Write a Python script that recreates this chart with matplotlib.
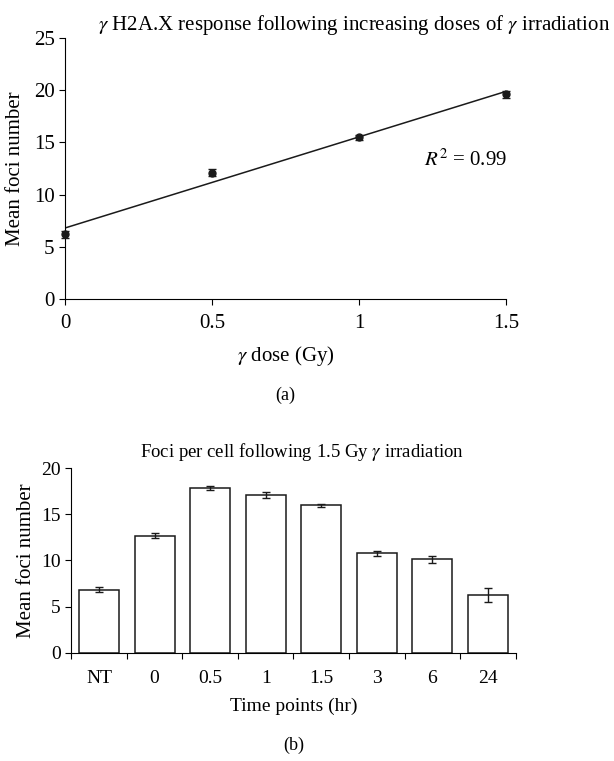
import numpy as np
from matplotlib import pyplot as plt

plt.rcParams['font.family'] = ['Liberation Serif', 'DejaVu Serif']
plt.rcParams['mathtext.fontset'] = 'stix'
plt.rcParams['font.size'] = 12

# panel (a): dose response
dose = [0, 0.5, 1, 1.5]
dose_foci = [6.2, 12.1, 15.5, 19.6]
dose_err = [0.35, 0.35, 0.25, 0.35]
r2_text = '$R^2$ = 0.99'

# panel (b): time course after 1.5 Gy
time_labels = ['NT', '0', '0.5', '1', '1.5', '3', '6', '24']
time_foci = [6.85, 12.7, 17.87, 17.1, 15.95, 10.77, 10.13, 6.3]
time_err = [0.3, 0.3, 0.2, 0.3, 0.2, 0.3, 0.4, 0.77]

fig = plt.figure(figsize=(6.14, 7.61), dpi=100)

ax1 = fig.add_axes([0.106, 0.607, 0.718, 0.343])
ax1.errorbar(dose, dose_foci, yerr=dose_err, fmt='o', color='#1a1a1a',
             markersize=5, capsize=3, elinewidth=1, capthick=1, zorder=3, clip_on=False)
slope, intercept = np.polyfit(dose, dose_foci, 1)
xs = np.array([0, 1.5])
ax1.plot(xs, slope * xs + intercept, color='#1a1a1a', lw=1.1)
ax1.text(1.22, 13.3, r2_text, fontsize=15, ha='left', va='center')
ax1.set_xlim(0, 1.5)
ax1.set_ylim(0, 25)
ax1.set_xticks([0, 0.5, 1, 1.5])
ax1.set_xticklabels(['0', '0.5', '1', '1.5'])
ax1.set_yticks(range(0, 26, 5))
ax1.tick_params(axis='both', labelsize=15)
ax1.tick_params(axis='x', pad=7)
ax1.set_ylabel('Mean foci number', fontsize=15, labelpad=6)
ax1.set_xlabel(r'$\gamma$ dose (Gy)', fontsize=15, labelpad=8)
ax1.set_title(r'$\gamma$ H2A.X response following increasing doses of $\gamma$ irradiation',
              fontsize=15, x=0.655, pad=6)
ax1.text(0.5, -0.37, '(a)', transform=ax1.transAxes, ha='center', va='center', fontsize=13)

ax2 = fig.add_axes([0.116, 0.142, 0.724, 0.243])
pos = np.arange(len(time_labels))
ax2.bar(pos, time_foci, width=0.72, color='white', edgecolor='#1a1a1a', lw=1.1,
        yerr=time_err, capsize=3, error_kw=dict(elinewidth=1, capthick=1, ecolor='#1a1a1a'))
ax2.set_xlim(-0.5, len(time_labels) - 0.5)
ax2.set_ylim(0, 20)
ax2.set_yticks(range(0, 21, 5))
ax2.set_xticks(np.append(pos - 0.5, pos[-1] + 0.5))
ax2.set_xticklabels([])
ax2.set_xticks(pos, minor=True)
ax2.set_xticklabels(time_labels, minor=True)
ax2.tick_params(axis='x', which='minor', length=0, pad=12, labelsize=14)
ax2.tick_params(axis='y', labelsize=14)
ax2.set_ylabel('Mean foci number', fontsize=15)
ax2.set_xlabel('Time points (hr)', fontsize=14, labelpad=8)
ax2.set_title(r'Foci per cell following 1.5 Gy $\gamma$ irradiation', fontsize=13.5, x=0.52, pad=8)
ax2.text(0.5, -0.5, '(b)', transform=ax2.transAxes, ha='center', va='center', fontsize=13)

for ax in (ax1, ax2):
    ax.spines['top'].set_visible(False)
    ax.spines['right'].set_visible(False)
    ax.tick_params(axis='both', which='major', direction='out', length=4)

fig.savefig('out.png', dpi=100)
